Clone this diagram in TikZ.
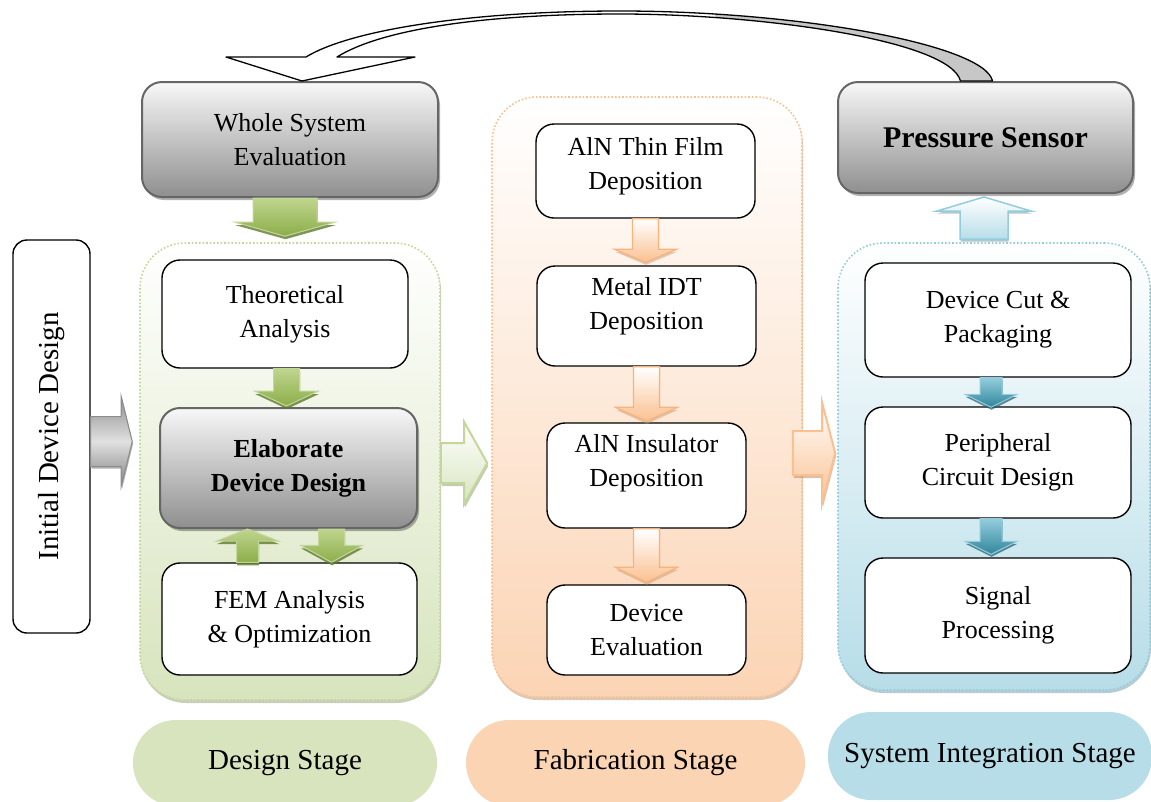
\documentclass[tikz,border=0pt]{standalone}
\usepackage{fontspec}
\setmainfont{Liberation Serif}
\usetikzlibrary{calc,shadows}

\definecolor{gfill}{HTML}{D7E4BD}
\definecolor{gline}{HTML}{C3D69B}
\definecolor{ofill}{HTML}{FBD4B4}
\definecolor{oline}{HTML}{FAC090}
\definecolor{bfill}{HTML}{B7DDE8}
\definecolor{bline}{HTML}{93CDDD}
\definecolor{gA}{HTML}{BFD58E}
\definecolor{gB}{HTML}{8CAE4A}
\definecolor{gshadow}{HTML}{5E7B2C}
\definecolor{bdark}{HTML}{31859C}
\definecolor{boxline}{HTML}{666666}
\definecolor{oborder}{HTML}{F8B27C}

\newcommand{\mainfs}{\fontsize{26}{34}\selectfont}
\newcommand{\stagefs}{\fontsize{29}{34}\selectfont}
\newcommand{\psfs}{\fontsize{30}{36}\selectfont\bfseries}

% vertical block arrow: style, from, to(tip), half body, half head, head length
\newcommand{\blockV}[6]{%
  \path[#1] let \p1=#2, \p2=#3, \n1={ifthenelse(\y2>\y1,1,-1)} in
   ({\x1-#4},\y1) -- ({\x1-#4},{\y2-(\n1)*#6}) -- ({\x1-#5},{\y2-(\n1)*#6}) -- (\x1,\y2)
   -- ({\x1+#5},{\y2-(\n1)*#6}) -- ({\x1+#4},{\y2-(\n1)*#6}) -- ({\x1+#4},\y1) -- cycle;}
% horizontal block arrow
\newcommand{\blockH}[6]{%
  \path[#1] let \p1=#2, \p2=#3, \n1={ifthenelse(\x2>\x1,1,-1)} in
   (\x1,{\y1-#4}) -- ({\x2-(\n1)*#6},{\y1-#4}) -- ({\x2-(\n1)*#6},{\y1-#5}) -- (\x2,\y1)
   -- ({\x2-(\n1)*#6},{\y1+#5}) -- ({\x2-(\n1)*#6},{\y1+#4}) -- (\x1,{\y1+#4}) -- cycle;}

\tikzset{
  wbox/.style={draw=black, line width=1.4pt, rounded corners=18pt, fill=white,
    align=center, font=\mainfs, inner sep=2pt},
  gbox/.style={draw=boxline, line width=2pt, rounded corners=20pt,
    top color=black!3, bottom color=black!44, align=center, font=\mainfs,
    drop shadow={shadow xshift=2pt, shadow yshift=-3pt, opacity=0.3, fill=black}},
  cont/.style={rounded corners=45pt, line width=1.6pt, dotted},
  stagelbl/.style={rounded corners=43pt, font=\stagefs, align=center},
  garrow/.style={top color=gA, bottom color=gB, draw=gline, line width=1pt,
    drop shadow={shadow xshift=0.5pt, shadow yshift=-3pt, fill=gshadow, opacity=0.8}},
  oarrow/.style={top color=white, bottom color=oline, draw=oborder, line width=1.2pt,
    drop shadow={shadow xshift=0.5pt, shadow yshift=-2.5pt, fill=oline!80!black, opacity=0.5}},
  barrow/.style={top color=white, bottom color=bfill, draw=bline, line width=1.5pt,
    drop shadow={shadow xshift=0.5pt, shadow yshift=-2.5pt, fill=bline!70!black, opacity=0.5}},
  bdarrow/.style={top color=bline, bottom color=bdark, draw=bline, line width=1pt,
    drop shadow={shadow xshift=0.5pt, shadow yshift=-2.5pt, fill=bdark!70!black, opacity=0.7}},
  lgarrow/.style={top color=white, bottom color=gfill, draw=gline, line width=2pt,
    drop shadow={shadow xshift=1pt, shadow yshift=-3pt, fill=gline!70!black, opacity=0.5}},
  loarrow/.style={top color=white, bottom color=oline, draw=oline, line width=2pt,
    drop shadow={shadow xshift=1pt, shadow yshift=-3pt, fill=oline!70!black, opacity=0.5}},
  grayarrow/.style={top color=black!45, bottom color=black!50, middle color=black!12,
    draw=black!45, line width=1pt,
    drop shadow={shadow xshift=1pt, shadow yshift=-2pt, fill=black, opacity=0.3}},
}

\begin{document}
\begin{tikzpicture}[x=1pt,y=-1pt]
\useasboundingbox (0,0) rectangle (1151,801);

% stage labels
\node[stagelbl, fill=gfill, minimum width=304pt, minimum height=86pt] (dst) at (285,763) {Design Stage};
\node[stagelbl, fill=ofill, minimum width=339pt, minimum height=86pt] (fst) at (635.5,763) {Fabrication Stage};
\node[stagelbl, fill=bfill, minimum width=324pt, minimum height=88pt] (sst) at (990,756) {System Integration Stage};

% stage containers
\node[cont, draw=gline, top color=white, bottom color=gfill, minimum width=300pt, minimum height=457pt,
  drop shadow={shadow xshift=1pt, shadow yshift=-3pt, fill=gline!75!black, opacity=0.5}] (design) at (290,471.5) {};
\node[cont, draw=oline, top color=white, bottom color=ofill, minimum width=310pt, minimum height=600pt,
  drop shadow={shadow xshift=1pt, shadow yshift=-3pt, fill=oline!75!black, opacity=0.5}] (fab) at (647,397) {};
\node[cont, draw=bline, top color=white, bottom color=bfill, minimum width=312pt, minimum height=447pt,
  drop shadow={shadow xshift=1pt, shadow yshift=-3pt, fill=bline!75!black, opacity=0.5}] (sys) at (994,466.5) {};

% left box
\node[wbox, rounded corners=14pt, minimum width=77pt, minimum height=393pt] (init) at (51.5,436.5)
  {\rotatebox{90}{\stagefs Initial Device Design}};

% gray boxes
\node[gbox, minimum width=296pt, minimum height=115pt] (wse) at (290,139.5) {Whole System\\Evaluation};
\node[gbox, minimum width=257pt, minimum height=120pt] (edd) at (288.5,468) {\bfseries Elaborate\\\bfseries Device Design};
\node[gbox, minimum width=295pt, minimum height=111pt, font=\psfs] (ps) at (985.5,137.5) {Pressure Sensor};

% design stage boxes
\node[wbox, minimum width=246pt, minimum height=108pt] (ta) at (285,314) {Theoretical\\Analysis};
\node[wbox, minimum width=255pt, minimum height=112pt] (fem) at (289.5,619) {FEM Analysis\\\& Optimization};

% fabrication boxes
\node[wbox, minimum width=219pt, minimum height=94pt, text depth=16pt] (aln) at (645.5,171) {AlN Thin Film\\Deposition};
\node[wbox, minimum width=219pt, minimum height=100pt, text depth=26pt] (idt) at (646.5,316) {Metal IDT\\Deposition};
\node[wbox, minimum width=199pt, minimum height=105pt, text depth=30pt] (ins) at (646.5,475.5) {AlN Insulator\\Deposition};
\node[wbox, minimum width=199pt, minimum height=90pt] (dev) at (646.5,630) {Device\\Evaluation};

% system integration boxes
\node[wbox, minimum width=266pt, minimum height=114pt] (dc) at (998,320) {Device Cut \&\\Packaging};
\node[wbox, minimum width=266pt, minimum height=111pt] (pc) at (998,462.5) {Peripheral\\Circuit Design};
\node[wbox, minimum width=266pt, minimum height=115pt] (sp) at (998,615.5) {Signal\\Processing};

% block arrows
\blockH{grayarrow}{($(init.east)+(0,5)$)}{($(design.west)+(-7,0)$)}{25pt}{45pt}{11pt}
\blockV{garrow}{($(wse.south)+(-5,0)$)}{($(design.north)+(0,-6)$)}{32pt}{50pt}{14pt}
\blockV{garrow}{($(ta.south)+(1.5,0)$)}{($(edd.north)+(0,-1)$)}{13pt}{32pt}{15pt}
\blockV{garrow}{($(edd.south)+(43,0)$)}{(fem.north)}{13pt}{31pt}{17pt}
\blockV{garrow}{($(fem.north)+(-42,0)$)}{(edd.south)}{11pt}{31pt}{12pt}
\blockH{lgarrow}{($(design.east)+(0,-8.5)$)}{($(fab.west)+(-4,0)$)}{20pt}{41pt}{23pt}
\blockV{oarrow}{(aln.south)}{($(idt.north)+(0,-3)$)}{13pt}{31pt}{13pt}
\blockV{oarrow}{(idt.south)}{($(ins.north)+(0,-1)$)}{13pt}{31pt}{14pt}
\blockV{oarrow}{(ins.south)}{($(dev.north)+(0,-2)$)}{13pt}{31pt}{15pt}
\blockH{loarrow}{($(fab.east)+(-10,56)$)}{($(sys.west)+(-2,0)$)}{22pt}{50pt}{13pt}
\blockV{barrow}{($(sys.north)+(-10,-3)$)}{($(ps.south)+(0,3)$)}{24pt}{47pt}{14pt}
\blockV{bdarrow}{($(dc.south)+(-7,0)$)}{($(pc.north)+(0,1)$)}{11pt}{26pt}{13pt}
\blockV{bdarrow}{($(pc.south)+(-7,0)$)}{($(sp.north)+(0,-3)$)}{11pt}{26pt}{13pt}

% curved feedback arrow from Pressure Sensor to Whole System Evaluation
\coordinate (tl) at ($(ps.north)+(-25,0)$);
\coordinate (tr) at ($(ps.north)+(7,0)$);
\coordinate (tip) at ($(wse.north)+(12,0)$);
\newcommand{\bandpath}{(tl) -- (tr) .. controls (985,45) and (800,11) .. (620,11)
  .. controls (470,11) and (350,30) .. ($(tip)+(4,-24)$) -- ($(tip)+(-76,-24)$) -- (tip)
  -- ($(tip)+(113,-24)$) -- ($(tip)+(35,-24)$)
  .. controls (380,30) and (480,14) .. (620,14)
  .. controls (760,14) and (950,40) .. (tl) -- cycle}
\fill[white] \bandpath;
\begin{scope}
  \clip (715,0) rectangle (1000,90);
  \fill[black!22] \bandpath;
\end{scope}
\draw[line width=1.3pt, line join=round] \bandpath;
\end{tikzpicture}
\end{document}
